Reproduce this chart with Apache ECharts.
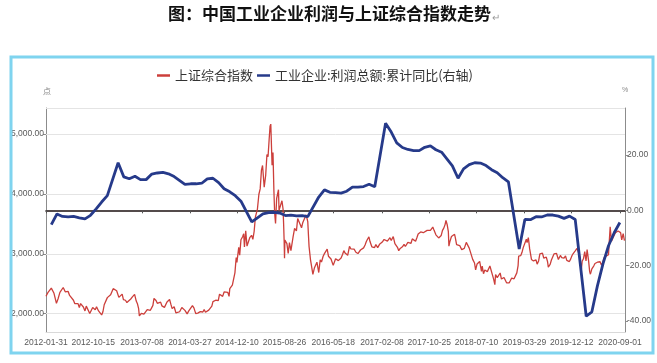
<!DOCTYPE html>
<html><head><meta charset="utf-8">
<script src="https://cdn.jsdelivr.net/npm/echarts@6/dist/echarts.min.js"></script>
<style>html,body{margin:0;padding:0;background:#fff}#c{width:657px;height:363px}</style>
</head><body><div id="c"></div>
<script>
// ---- x tick labels ----
const tickLabels = ['2012-01-31','2012-10-15','2013-07-08','2014-03-27','2014-12-10','2015-08-26','2016-05-18','2017-02-08','2017-10-25','2018-07-10','2019-03-29','2019-12-12','2020-09-01'];
const xStart = '2012-01-31', xEnd = '2020-09-28';
const leftTicks = [2000, 3000, 4000, 5000];
const rightTicks = [-40, -20, 0, 20];

// ---- 上证综合指数 (date MM-DD, close) by year ----
const sh2012 = [['01-31',2292],['02-10',2351],['02-20',2381],['02-29',2428],['03-02',2460],['03-14',2347],['03-20',2376],['03-28',2173],['04-06',2251],['04-16',2357],['04-25',2374],['05-04',2438],['05-15',2366],['05-23',2374],['05-31',2372],['06-08',2305],['06-18',2283],['06-29',2225],['07-06',2171],['07-16',2171],['07-24',2168],['07-31',2103],['08-07',2170],['08-15',2139],['08-22',2112],['08-31',2047],['09-07',2127],['09-14',2118],['09-26',2004],['10-12',2105],['10-19',2128],['10-26',2068],['11-02',2117],['11-13',2047],['11-22',2018],['11-30',1980],['12-03',1959],['12-07',2033],['12-14',2150],['12-21',2153],['12-31',2269]];
const sh2013 = [['01-09',2275],['01-18',2317],['01-25',2292],['02-01',2419],['02-06',2434],['02-20',2383],['02-28',2359],['03-04',2273],['03-13',2263],['03-22',2328],['03-29',2237],['04-09',2225],['04-17',2187],['04-26',2177],['05-08',2246],['05-17',2282],['05-29',2324],['06-07',2211],['06-14',2162],['06-20',2084],['06-24',1963],['06-28',1979],['07-05',2007],['07-12',2039],['07-19',1992],['07-29',1977],['08-06',2068],['08-16',2085],['08-23',2057],['08-30',2098],['09-06',2139],['09-12',2255],['09-23',2221],['09-30',2174],['10-10',2207],['10-18',2194],['10-25',2132],['11-01',2150],['11-08',2106],['11-15',2135],['11-22',2197],['11-29',2220],['12-06',2238],['12-13',2160],['12-20',2085],['12-31',2116]];
const sh2014 = [['01-10',2013],['01-20',1991],['01-30',2033],['02-11',2103],['02-18',2107],['02-28',2056],['03-07',2057],['03-12',1997],['03-21',2047],['03-31',2033],['04-10',2134],['04-18',2097],['04-28',2001],['05-09',2011],['05-16',2026],['05-23',2035],['05-30',2039],['06-06',2029],['06-13',2070],['06-20',2024],['06-30',2048],['07-08',2060],['07-18',2059],['07-25',2126],['07-31',2201],['08-08',2194],['08-15',2226],['08-22',2241],['08-29',2217],['09-05',2326],['09-15',2332],['09-22',2290],['09-30',2364],['10-10',2374],['10-20',2357],['10-27',2290],['10-31',2420],['11-07',2418],['11-14',2478],['11-21',2487],['11-28',2683],['12-05',2938],['12-09',2856],['12-12',2938],['12-19',3108],['12-24',2977],['12-31',3235]];
const sh2015 = [['01-09',3285],['01-15',3336],['01-19',3116],['01-26',3383],['02-02',3128],['02-09',3095],['02-17',3269],['02-27',3310],['03-06',3241],['03-13',3373],['03-20',3617],['03-31',3748],['04-08',3995],['04-15',4084],['04-22',4398],['04-28',4476],['05-07',4112],['05-15',4308],['05-22',4658],['05-28',4620],['06-03',4910],['06-08',5131],['06-12',5166],['06-19',4478],['06-24',4690],['06-29',4053],['07-03',3687],['07-08',3507],['07-14',3924],['07-24',4070],['07-27',3725],['08-04',3756],['08-12',3886],['08-18',3749],['08-21',3508],['08-24',3210],['08-26',2927],['08-28',3232],['09-08',3170],['09-15',3005],['09-22',3186],['09-30',3053],['10-12',3287],['10-20',3425],['10-30',3383],['11-06',3590],['11-16',3607],['11-27',3436],['12-04',3525],['12-14',3520],['12-22',3651],['12-31',3539]];
const sh2016 = [['01-04',3297],['01-07',3125],['01-15',2900],['01-22',2916],['01-28',2656],['02-05',2763],['02-19',2860],['02-29',2688],['03-08',2901],['03-15',2864],['03-24',2960],['03-31',3004],['04-08',2985],['04-15',3078],['04-22',2960],['04-29',2938],['05-06',2913],['05-18',2807],['05-26',2822],['05-31',2917],['06-08',2927],['06-15',2887],['06-24',2854],['06-30',2930],['07-08',2989],['07-15',3054],['07-22',3012],['07-29',2979],['08-05',2976],['08-15',3125],['08-22',3084],['08-31',3085],['09-09',3078],['09-19',3027],['09-30',3005],['10-14',3064],['10-21',3091],['10-31',3100],['11-08',3148],['11-15',3206],['11-22',3248],['11-29',3282],['12-05',3205],['12-15',3118],['12-22',3139],['12-30',3104]];
const sh2017 = [['01-06',3155],['01-16',3103],['01-26',3159],['02-10',3197],['02-20',3240],['02-28',3242],['03-10',3213],['03-17',3237],['03-24',3269],['03-31',3223],['04-11',3289],['04-20',3172],['04-28',3155],['05-05',3103],['05-11',3052],['05-19',3090],['05-31',3117],['06-09',3158],['06-16',3123],['06-30',3192],['07-07',3217],['07-17',3176],['07-24',3250],['07-31',3273],['08-11',3209],['08-18',3268],['08-25',3332],['08-31',3361],['09-08',3365],['09-15',3354],['09-22',3353],['09-29',3349],['10-13',3391],['10-20',3378],['10-31',3393],['11-06',3389],['11-13',3447],['11-20',3392],['11-30',3317],['12-08',3289],['12-15',3266],['12-22',3297],['12-29',3307]];
const sh2018 = [['01-05',3392],['01-12',3429],['01-19',3488],['01-24',3560],['01-31',3481],['02-06',3370],['02-09',3129],['02-14',3199],['02-23',3289],['03-02',3273],['03-12',3326],['03-16',3269],['03-23',3152],['03-30',3169],['04-09',3138],['04-13',3159],['04-20',3071],['04-27',3082],['05-04',3091],['05-15',3192],['05-22',3214],['05-31',3095],['06-08',3067],['06-19',2908],['06-22',2890],['06-29',2847],['07-05',2733],['07-13',2831],['07-20',2829],['07-27',2873],['08-06',2705],['08-10',2795],['08-17',2669],['08-24',2730],['08-31',2725],['09-07',2703],['09-14',2682],['09-21',2797],['09-28',2821],['10-11',2583],['10-18',2486],['10-22',2655],['10-31',2603],['11-09',2599],['11-16',2680],['11-23',2579],['11-30',2588],['12-07',2606],['12-14',2594],['12-21',2516],['12-28',2494]];
const sh2019 = [['01-04',2514],['01-11',2554],['01-18',2596],['01-25',2601],['01-31',2584],['02-15',2682],['02-22',2804],['02-25',2961],['03-01',2994],['03-08',2969],['03-15',3021],['03-22',3104],['03-29',3091],['04-08',3244],['04-12',3189],['04-19',3270],['04-26',3086],['05-06',2906],['05-10',2939],['05-17',2882],['05-24',2853],['05-31',2898],['06-06',2827],['06-14',2881],['06-21',3001],['06-28',2979],['07-05',3011],['07-12',2930],['07-19',2924],['07-26',2944],['08-02',2868],['08-06',2778],['08-16',2823],['08-23',2898],['08-30',2886],['09-06',2999],['09-16',3031],['09-20',3006],['09-30',2905],['10-11',2973],['10-18',2938],['10-25',2955],['10-31',2929],['11-08',2964],['11-15',2891],['11-22',2885],['11-29',2871],['12-06',2912],['12-13',2968],['12-20',3005],['12-31',3050]];
const sh2020 = [['01-10',3092],['01-14',3106],['01-23',2976],['02-03',2746],['02-07',2876],['02-14',2917],['02-21',3039],['02-28',2880],['03-05',3071],['03-13',2887],['03-19',2702],['03-23',2660],['03-31',2750],['04-10',2796],['04-17',2838],['04-24',2809],['04-30',2860],['05-15',2868],['05-22',2813],['05-29',2852],['06-05',2930],['06-12',2920],['06-19',2967],['06-30',2985],['07-03',3152],['07-09',3450],['07-16',3210],['07-24',3197],['07-31',3310],['08-07',3354],['08-14',3360],['08-21',3381],['08-31',3396],['09-04',3355],['09-10',3234],['09-18',3338],['09-25',3219]];

// ---- 工业企业:利润总额:累计同比 (%), months Feb..Dec ----
const pr2012 = [-5.2,-1.3,-2.2,-2.4,-2.2,-2.7,-3.1,-1.8,0.5,3.0,5.3];
const pr2013 = [17.2,12.1,11.4,12.3,11.1,11.1,13.1,13.5,13.7,13.2,12.2];
const pr2014 = [9.4,9.6,9.6,9.8,11.4,11.6,10.0,7.8,6.7,5.3,3.3];
const pr2015 = [-4.2,-2.7,-1.3,-0.8,-0.7,-1.0,-1.9,-1.7,-2.0,-1.9,-2.3];
const pr2016 = [4.8,7.4,6.5,6.4,6.2,6.9,8.4,8.4,8.6,9.4,8.5];
const pr2017 = [31.5,28.3,24.4,22.7,22.0,21.6,21.6,22.8,23.3,21.9,21.0];
const pr2018 = [16.1,11.6,15.0,16.5,17.2,17.1,16.2,14.7,13.6,11.8,10.3];
const pr2019 = [-14.0,-3.3,-3.4,-2.3,-2.4,-1.7,-1.7,-2.1,-2.9,-2.1,-3.3];
const pr2020 = [-38.3,-36.7,-27.4,-19.3,-12.8,-8.1,-4.4];

const seriesNames = ['上证综合指数', '工业企业:利润总额:累计同比(右轴)'];
const titleText = '图：中国工业企业利润与上证综合指数走势';
const leftUnit = '点', rightUnit = '%';

function ts(s){ const p = s.split('-'); return new Date(+p[0], +p[1]-1, +p[2]).getTime(); }
const redData = [];
[[2012,sh2012],[2013,sh2013],[2014,sh2014],[2015,sh2015],[2016,sh2016],[2017,sh2017],[2018,sh2018],[2019,sh2019],[2020,sh2020]]
  .forEach(([y, arr]) => arr.forEach(([md, v]) => redData.push([ts(y + '-' + md), v])));
const blueData = [];
[[2012,pr2012],[2013,pr2013],[2014,pr2014],[2015,pr2015],[2016,pr2016],[2017,pr2017],[2018,pr2018],[2019,pr2019],[2020,pr2020]]
  .forEach(([y, arr]) => arr.forEach((v, i) => blueData.push([new Date(y, i + 2, 0).getTime(), v])));
const labelMap = {};
const tickTs = tickLabels.map(s => { const t = ts(s); labelMap[t] = s; return t; });

const NARROW = "'Liberation Sans Narrow','Liberation Sans',sans-serif";
const CJK = "'Noto Sans CJK SC','Noto Sans',sans-serif";
const LMIN = 1695, LMAX = 5435, RMIN = -44, RMAX = 37;
const fmtLeft = v => String(v).replace(/\B(?=(\d{3})+(?!\d))/g, ',') + '.00';

const chart = echarts.init(document.getElementById('c'));
chart.setOption({
  animation: false,
  backgroundColor: '#fff',
  graphic: [
    { type: 'text', x: 168, y: 5, style: { text: titleText, font: 'bold 17px ' + CJK, fill: '#111' } },
    { type: 'text', x: 492, y: 12, style: { text: '↵', font: '10px ' + CJK, fill: '#9a9a9a' } },
    { type: 'text', x: 43, y: 87, style: { text: leftUnit, font: '8px ' + CJK, fill: '#888' } },
    { type: 'text', x: 622, y: 87, style: { text: rightUnit, font: '7px ' + NARROW, fill: '#888' } },
    { type: 'rect', shape: { x: 11, y: 57, width: 642, height: 296 }, style: { fill: 'none', stroke: '#7fd4ef', lineWidth: 3 }, z: 10 }
  ],
  legend: {
    top: 64, left: 152, itemWidth: 13, itemHeight: 2.5, itemGap: 4, icon: 'rect',
    textStyle: { fontFamily: CJK, fontSize: 13, color: '#333' },
    data: seriesNames
  },
  grid: { left: 46, right: 32, top: 108, height: 224 },
  xAxis: [
    { type: 'value', min: ts(xStart), max: ts(xEnd), position: 'bottom',
      axisLine: { show: true, onZero: false, lineStyle: { color: '#d9d9d9', width: 1 } },
      axisTick: { show: false },
      axisLabel: { customValues: tickTs, formatter: v => labelMap[v] || '', color: '#595959', fontSize: 8.5, fontFamily: NARROW, margin: 6, hideOverlap: false },
      splitLine: { show: false } },
    { type: 'value', min: ts(xStart), max: ts(xEnd), position: 'bottom',
      axisLine: { show: true, onZero: true, onZeroAxisIndex: 1, lineStyle: { color: '#1c1010', width: 1.6 } },
      axisTick: { show: true, customValues: tickTs, length: 3, inside: false, lineStyle: { color: '#555', width: 1 } },
      axisLabel: { show: false },
      splitLine: { show: false } }
  ],
  yAxis: [
    { type: 'value', min: LMIN, max: LMAX, position: 'left',
      axisLine: { show: true, lineStyle: { color: '#8c8c8c', width: 1 } },
      axisTick: { show: true, customValues: leftTicks, length: 3, lineStyle: { color: '#8c8c8c' } },
      axisLabel: { customValues: leftTicks, formatter: fmtLeft, color: '#595959', fontSize: 8.5, fontFamily: NARROW, margin: 2 },
      splitLine: { show: false } },
    { type: 'value', min: RMIN, max: RMAX, position: 'right',
      axisLine: { show: true, onZero: false, lineStyle: { color: '#8c8c8c', width: 1 } },
      axisTick: { show: true, customValues: rightTicks, length: 3, lineStyle: { color: '#8c8c8c' } },
      axisLabel: { customValues: rightTicks, formatter: v => Number(v).toFixed(2), color: '#595959', fontSize: 8.5, fontFamily: NARROW, margin: 2 },
      splitLine: { show: false } }
  ],
  series: [
    { name: seriesNames[0], type: 'line', xAxisIndex: 0, yAxisIndex: 0, data: redData,
      symbol: 'none', showSymbol: false, z: 3,
      lineStyle: { color: '#cc3f3b', width: 1.3 }, itemStyle: { color: '#cc3f3b' },
      markLine: { silent: true, symbol: 'none', z: 1, animation: false,
        label: { show: false }, lineStyle: { color: '#e4e4e4', width: 1, type: 'solid' },
        data: leftTicks.concat([LMAX]).map(v => ({ yAxis: v })) } },
    { name: seriesNames[1], type: 'line', xAxisIndex: 0, yAxisIndex: 1, data: blueData,
      symbol: 'none', showSymbol: false, z: 4,
      lineStyle: { color: '#263a8a', width: 2.8 }, itemStyle: { color: '#263a8a' } }
  ]
});
</script>
</body></html>
